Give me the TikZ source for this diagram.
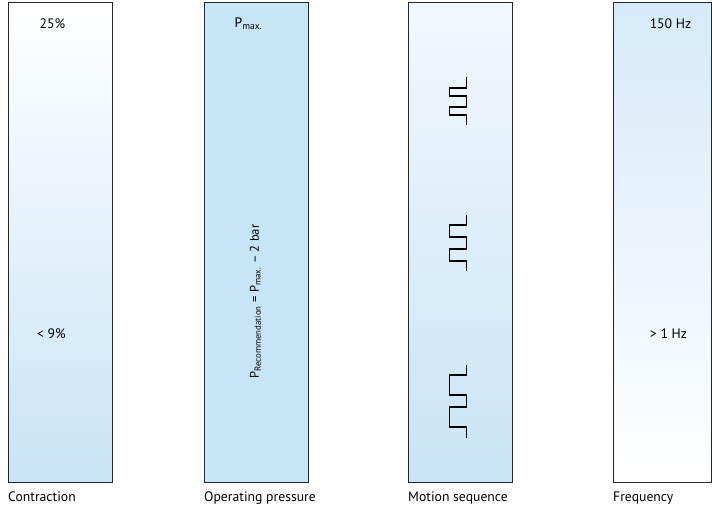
\documentclass[tikz,border=0pt]{standalone}
\usepackage{fontspec}
\setmainfont{PT Sans}
\usetikzlibrary{positioning}
\definecolor{barblue}{RGB}{200,228,247}
\definecolor{palebar}{RGB}{242,248,253}
\definecolor{freqtop}{RGB}{214,234,249}

\begin{document}
\begin{tikzpicture}[x=1pt, y=1pt,
  bar/.style={draw=black!85, line width=0.9pt, minimum width=104pt, minimum height=479.5pt, inner sep=0pt, anchor=north west},
  val/.style={inner sep=0pt, font=\fontsize{13.7}{15}\selectfont},
  caption/.style={inner sep=0pt, font=\fontsize{13.7}{15}\selectfont},
  wave/.style={line width=1.4pt, line join=miter}]
\useasboundingbox (0,0) rectangle (712,511);
\node[bar, top color=white, bottom color=barblue] (contr) at (8,508.5) {};
\node[bar, fill=barblue] (press) at (204,508.5) {};
\node[bar, top color=palebar, bottom color=barblue] (motion) at (408,508.5) {};
\node[bar, minimum width=98pt, top color=freqtop, bottom color=white] (freq) at (613,508.5) {};

\node[val] (contrmax) at ([xshift=-8pt, yshift=-21pt]contr.north) {25\%};
\node[val] (contrmin) at ([xshift=-9pt, yshift=149pt]contr.south) {< 9\%};
\node[val] (pmax) at ([xshift=-8pt, yshift=-21pt]press.north) {P\textsubscript{max.}};
\node[val, rotate=90, font=\fontsize{12.6}{14}\selectfont] (prec) at ([xshift=-1pt, yshift=-59pt]press.center) {P\textsubscript{Recommendation} = P\textsubscript{max.} – 2 bar};
\node[val] (freqmax) at ([xshift=8pt, yshift=-21pt]freq.north) {150 Hz};
\node[val] (freqmin) at ([xshift=6pt, yshift=149pt]freq.south) {> 1 Hz};

\foreach \top/\a/\b/\c/\d/\e in {434/11/8/11/8/10, 296/10/12/12/12/10, 146/10/20/12/20/11}
  \draw[wave] (466.7,\top) -- ++(0,-\a) -- ++(-17.4,0) -- ++(0,-\b) -- ++(17.4,0) -- ++(0,-\c)
    -- ++(-17.4,0) -- ++(0,-\d) -- ++(17.4,0) -- ++(0,-\e);

\node[caption, below right=9pt and 0pt of contr.south west] (contrcap) {Contraction};
\node[caption, below right=9pt and 0pt of press.south west] (presscap) {Operating pressure};
\node[caption, below right=9pt and 0pt of motion.south west] (motioncap) {Motion sequence};
\node[caption, below right=9pt and 0pt of freq.south west] (freqcap) {Frequency};
\end{tikzpicture}
\end{document}
